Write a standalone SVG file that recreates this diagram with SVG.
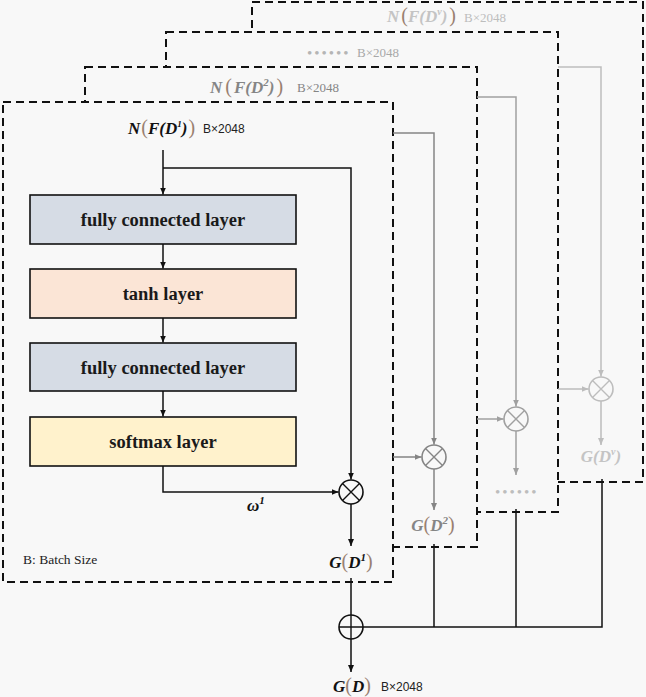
<svg xmlns="http://www.w3.org/2000/svg" width="646" height="697" viewBox="0 0 646 697">
<style>
.frame{fill:#f8f8f8;stroke:#111;stroke-width:2;stroke-dasharray:8,5}
.box{stroke:#111;stroke-width:1.6}
.lbl{font-family:"Liberation Serif","DejaVu Serif",serif;font-weight:bold;font-size:18.5px;fill:#1a1a1a;text-anchor:middle}
.math{font-family:"Liberation Serif","DejaVu Serif",serif;font-weight:bold;font-style:italic;font-size:17px}
.par{font-style:normal;font-weight:normal;fill:#9a8070;font-size:20px}
.dim{font-family:"Liberation Sans","DejaVu Sans",sans-serif;font-size:12px;fill:#222}
.dims{font-family:"Liberation Serif","DejaVu Serif",serif;font-size:13px}
.dots{font-family:"Liberation Serif","DejaVu Serif",serif;font-size:15px;letter-spacing:2px}
.k{fill:none;stroke:#111;stroke-width:1.5}
.g1{fill:none;stroke:#858585;stroke-width:1.5}
.g2{fill:none;stroke:#a0a0a0;stroke-width:1.5}
.g3{fill:none;stroke:#bdbdbd;stroke-width:1.5}
</style>
<defs>
<marker id="ak" markerWidth="8" markerHeight="8" refX="7" refY="4" orient="auto" markerUnits="userSpaceOnUse"><path d="M0,1 L7,4 L0,7 z" fill="#111"/></marker>
<marker id="a1" markerWidth="8" markerHeight="8" refX="7" refY="4" orient="auto" markerUnits="userSpaceOnUse"><path d="M0,1 L7,4 L0,7 z" fill="#858585"/></marker>
<marker id="a2" markerWidth="8" markerHeight="8" refX="7" refY="4" orient="auto" markerUnits="userSpaceOnUse"><path d="M0,1 L7,4 L0,7 z" fill="#a0a0a0"/></marker>
<marker id="a3" markerWidth="8" markerHeight="8" refX="7" refY="4" orient="auto" markerUnits="userSpaceOnUse"><path d="M0,1 L7,4 L0,7 z" fill="#bdbdbd"/></marker>
</defs>
<rect x="0" y="0" width="646" height="697" fill="#f8f8f8"/>

<g id="frame4">
<rect class="frame" x="252" y="2" width="391" height="480"/>
<text x="387" y="22" class="math" fill="#c4c4c4">N<tspan class="par" dx="2" fill="#d0c4bc">(</tspan>F(D<tspan font-size="10" dy="-7">v</tspan><tspan dy="7">)</tspan><tspan class="par" dx="2" fill="#d0c4bc">)</tspan></text>
<text x="464" y="22" class="dims" fill="#bdbdbd">B×2048</text>
</g>
<g id="frame3">
<rect class="frame" x="166" y="32" width="392" height="480"/>
<text x="307" y="58" class="dots" fill="#b5b5b5">••••••</text>
<text x="357" y="57" class="dims" fill="#a8a8a8">B×2048</text>
</g>
<g id="frame2">
<rect class="frame" x="85" y="67" width="392" height="480"/>
<text x="210" y="93" class="math" fill="#858585">N<tspan class="par" dx="3" fill="#c0aa9a">(</tspan><tspan dx="2">F(D</tspan><tspan font-size="11" dy="-7">2</tspan><tspan dy="7">)</tspan><tspan class="par" dx="2" fill="#c0aa9a">)</tspan></text>
<text x="297" y="92" class="dims" fill="#858585">B×2048</text>
</g>
<g id="frame1">
<rect class="frame" x="3" y="102" width="390" height="480"/>
<text x="128" y="134" class="math" fill="#111">N<tspan class="par" dx="1">(</tspan>F(D<tspan font-size="9" dy="-7">1</tspan><tspan dy="7">)</tspan><tspan class="par" dx="1">)</tspan></text>
<text x="203" y="133" class="dim">B×2048</text>
<text x="23" y="564" font-family="Liberation Serif, DejaVu Serif, serif" font-size="13.5" fill="#222">B: Batch Size</text>
</g>

<g id="fc1"><rect class="box" x="30" y="195" width="266" height="49" fill="#d6dce5"/><text class="lbl" x="163" y="226">fully connected layer</text></g>
<g id="tanh"><rect class="box" x="30" y="269" width="266" height="49" fill="#fbe5d6"/><text class="lbl" x="163" y="300">tanh layer</text></g>
<g id="fc2"><rect class="box" x="30" y="343" width="266" height="48" fill="#d6dce5"/><text class="lbl" x="163" y="374">fully connected layer</text></g>
<g id="softmax"><rect class="box" x="30" y="417" width="266" height="49" fill="#fff2cc"/><text class="lbl" x="163" y="448">softmax layer</text></g>

<g id="mul1"><circle cx="351" cy="492" r="12" fill="#f8f8f8" stroke="#111" stroke-width="1.6"/><path d="M342.5,483.5 L359.5,500.5 M359.5,483.5 L342.5,500.5" stroke="#111" stroke-width="1.4"/></g>
<g id="mul2"><circle cx="434" cy="457" r="12" fill="#f8f8f8" stroke="#858585" stroke-width="1.6"/><path d="M425.5,448.5 L442.5,465.5 M442.5,448.5 L425.5,465.5" stroke="#858585" stroke-width="1.4"/></g>
<g id="mul3"><circle cx="516" cy="419" r="12" fill="#f8f8f8" stroke="#a0a0a0" stroke-width="1.6"/><path d="M507.5,410.5 L524.5,427.5 M524.5,410.5 L507.5,427.5" stroke="#a0a0a0" stroke-width="1.4"/></g>
<g id="mul4"><circle cx="601" cy="389" r="12" fill="#f8f8f8" stroke="#bdbdbd" stroke-width="1.6"/><path d="M592.5,380.5 L609.5,397.5 M609.5,380.5 L592.5,397.5" stroke="#bdbdbd" stroke-width="1.4"/></g>
<g id="sum"><circle cx="351" cy="627" r="12" fill="#f8f8f8" stroke="#111" stroke-width="1.6"/><path d="M339,627 L363,627 M351,615 L351,639" stroke="#111" stroke-width="1.4"/></g>

<g id="connectors">
<path class="k" d="M163,150 L163,194.5" marker-end="url(#ak)"/>
<path class="k" d="M163,168 L351,168 L351,479.5" marker-end="url(#ak)"/>
<path class="k" d="M163,244 L163,268.5" marker-end="url(#ak)"/>
<path class="k" d="M163,318 L163,342.5" marker-end="url(#ak)"/>
<path class="k" d="M163,391 L163,416.5" marker-end="url(#ak)"/>
<path class="k" d="M163,466 L163,492 L338.5,492" marker-end="url(#ak)"/>
<path class="k" d="M351,504 L351,546" marker-end="url(#ak)"/>

<path class="g1" d="M393,133 L434,133 L434,444.5" marker-end="url(#a1)"/>
<path class="g1" d="M393,457 L421.5,457" marker-end="url(#a1)"/>
<path class="g1" d="M434,469 L434,510" marker-end="url(#a1)"/>

<path class="g2" d="M477,97 L516,97 L516,406.5" marker-end="url(#a2)"/>
<path class="g2" d="M477,419 L503.5,419" marker-end="url(#a2)"/>
<path class="g2" d="M516,431 L516,475" marker-end="url(#a2)"/>

<path class="g3" d="M558,67 L601,67 L601,376.5" marker-end="url(#a3)"/>
<path class="g3" d="M558,389 L588.5,389" marker-end="url(#a3)"/>
<path class="g3" d="M601,401 L601,445" marker-end="url(#a3)"/>

<path class="k" stroke-width="2" d="M351,578 L351,615"/>
<path class="k" stroke-width="2" d="M351,639 L351,672" marker-end="url(#ak)"/>
<path class="k" stroke-width="2" d="M363,627 L602,627 L602,479"/>
<path class="k" stroke-width="2" d="M434,544 L434,627"/>
<path class="k" stroke-width="2" d="M516,509 L516,627"/>
</g>

<g id="labels">
<text x="247" y="511" class="math" fill="#111">ω<tspan font-size="11" dy="-7">1</tspan></text>
<text x="351" y="568" class="math" fill="#111" text-anchor="middle">G<tspan class="par" fill="#111">(</tspan>D<tspan font-size="11" dy="-7">1</tspan><tspan class="par" fill="#111" dy="7">)</tspan></text>
<text x="433" y="531" class="math" fill="#858585" text-anchor="middle">G<tspan class="par" fill="#858585">(</tspan>D<tspan font-size="11" dy="-7">2</tspan><tspan class="par" fill="#858585" dy="7">)</tspan></text>
<text x="495" y="497" class="dots" fill="#bdbdbd">••••••</text>
<text x="601" y="462" class="math" fill="#c4c4c4" text-anchor="middle">G(D<tspan font-size="10" dy="-7">v</tspan><tspan dy="7">)</tspan></text>
<text x="333" y="692" class="math" fill="#111">G<tspan class="par">(</tspan>D<tspan class="par">)</tspan></text>
<text x="381" y="691" class="dim">B×2048</text>
</g>
</svg>
